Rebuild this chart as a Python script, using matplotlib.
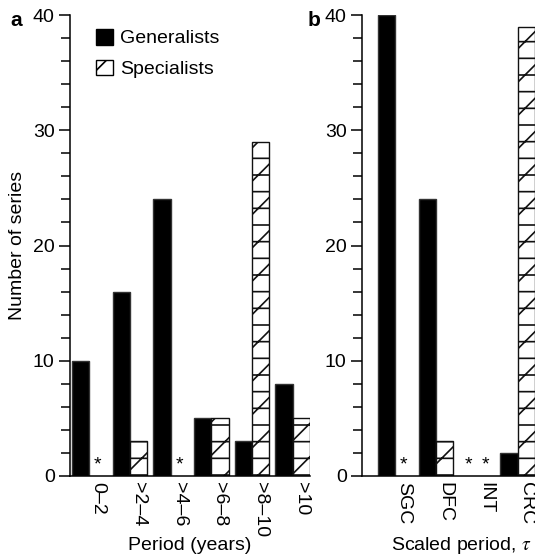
import matplotlib
matplotlib.use("Agg")
import matplotlib.pyplot as plt
from matplotlib.patches import Patch
from matplotlib.ticker import MultipleLocator
import numpy as np

plt.rcParams['font.family'] = ['Liberation Sans', 'DejaVu Sans']
plt.rcParams['mathtext.fontset'] = 'stix'
plt.rcParams['hatch.linewidth'] = 1.2

# ---- data ----
cats_a = ["0–2", ">2–4", ">4–6", ">6–8", ">8–10", ">10"]
gen_a = [10, 16, 24, 5, 3, 8]
spec_a = [0, 3, 0, 5, 29, 5]          # 0 drawn as asterisk

cats_b = ["SGC", "DFC", "INT", "CRC"]
gen_b = [40, 24, 0, 2]
spec_b = [0, 3, 0, 39]

yticks_major = [0, 10, 20, 30, 40]

W = 0.425
FS = 14

fig = plt.figure(figsize=(5.35, 5.6), dpi=100)
axA = fig.add_axes([70/535, 84/560, 240/535, 461/560])
axB = fig.add_axes([362/535, 84/560, 173/535, 461/560])


def draw(ax, cats, gen, spec, xlim):
    x = np.arange(len(cats))
    for xi, g, s in zip(x, gen, spec):
        if g > 0:
            ax.bar(xi - W/2, g, W, color='black', edgecolor='#333333', linewidth=1.0)
        else:
            ax.text(xi - W/2, 0.2, '*', ha='center', va='bottom', fontsize=14)
        if s > 0:
            ax.bar(xi + W/2, s, W, facecolor='white', edgecolor='#111111',
                   hatch='/-', linewidth=1.0)
        else:
            ax.text(xi + W/2, 0.2, '*', ha='center', va='bottom', fontsize=14)
    ax.set_xlim(*xlim)
    ax.set_ylim(0, 40)
    ax.set_xticks(x + W/2)
    ax.set_xticklabels(cats, rotation=-90, fontsize=FS, va='top', ha='center')
    ax.tick_params(axis='x', length=0, pad=4)
    ax.set_yticks(yticks_major)
    ax.yaxis.set_minor_locator(MultipleLocator(2))
    ax.tick_params(axis='y', which='major', length=8, width=1.1, labelsize=FS, pad=3)
    ax.tick_params(axis='y', which='minor', length=6.5, width=1.1)
    for s in ['top', 'right']:
        ax.spines[s].set_visible(False)
    for s in ['left', 'bottom']:
        ax.spines[s].set_linewidth(1.1)
    ax.spines['left'].set_bounds(0, 40)
    for sp in ax.spines.values():
        sp.set_clip_on(False)


draw(axA, cats_a, gen_a, spec_a, (-W - 0.05, len(cats_a) - 1 + W))
draw(axB, cats_b, gen_b, spec_b, (-0.81, len(cats_b) - 1 + W))

handles = [Patch(facecolor='black', edgecolor='black'),
           Patch(facecolor='white', edgecolor='black', hatch='/')]
fig.legend(handles, ['Generalists', 'Specialists'], loc='upper left',
           bbox_to_anchor=(96/535, 1 - 29/560), frameon=False, fontsize=FS,
           handlelength=0.85, handleheight=0.85, handletextpad=0.4,
           labelspacing=0.62, borderpad=0, borderaxespad=0)

fig.text(10/535, 1 - 20/560, 'a', fontweight='bold', fontsize=15, va='center', ha='left')
fig.text(308/535, 1 - 20/560, 'b', fontweight='bold', fontsize=15, va='center', ha='left')
fig.text(18/535, 1 - 245/560, 'Number of series', rotation=90, fontsize=FS,
         va='center', ha='center')
fig.text(190/535, 1 - 546/560, 'Period (years)', fontsize=FS, va='center', ha='center')
fig.text(461/535, 1 - 546/560, r'Scaled period, $\tau$', fontsize=FS, va='center', ha='center')

fig.savefig('out.png', dpi=100)
